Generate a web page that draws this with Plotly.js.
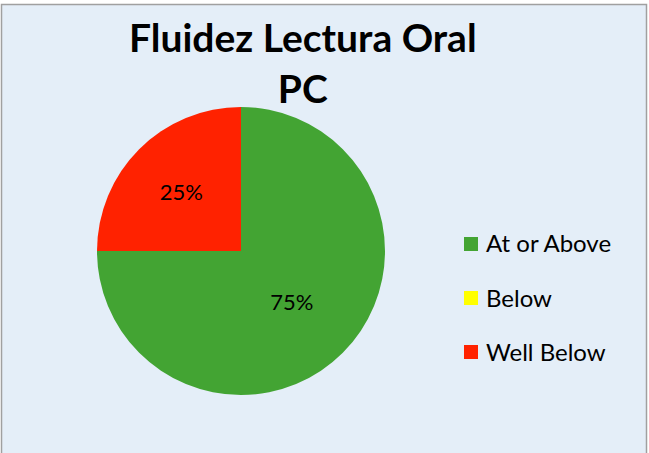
<!DOCTYPE html>
<html><head><meta charset="utf-8">
<script src="https://cdn.plot.ly/plotly-3.0.1.min.js"></script>
<style>html,body{margin:0;padding:0;background:#fff}</style>
</head><body><div id="chart" style="width:649px;height:453px"></div>
<script>
const categories = ["At or Above", "Below", "Well Below"];
const values = [75, 0, 25];
const colors = ["#43a433", "#ffff00", "#ff2200"];
const titleText = "Fluidez Lectura Oral<br>PC";

const W = 649, H = 453;
const px = x => x / W, py = y => 1 - y / H;

const shapes = [{
  type: "rect", xref: "paper", yref: "paper", layer: "below",
  x0: px(1.5), x1: px(646.5), y0: py(470), y1: py(4.5),
  fillcolor: "#e4eef8", line: {color: "#a0a0a0", width: 1.5}
}];
const annotations = [{
  xref: "paper", yref: "paper", x: px(303), y: py(62), xanchor: "center", yanchor: "middle",
  showarrow: false, text: "<b>" + titleText + "</b>",
  font: {family: "Lato, sans-serif", size: 39, color: "#000"}
}];
const legTop = 243, legGap = 54;
categories.forEach((c, i) => {
  const yc = legTop + i * legGap;
  shapes.push({type: "rect", xref: "paper", yref: "paper",
    x0: px(464), x1: px(478), y0: py(yc + 8), y1: py(yc - 6),
    fillcolor: colors[i], line: {width: 0}});
  annotations.push({xref: "paper", yref: "paper", x: px(484), y: py(yc),
    xanchor: "left", yanchor: "middle", showarrow: false, text: c,
    font: {family: "Lato, sans-serif", size: 24, color: "#000"}});
});

const data = [{
  type: "pie", labels: categories, values: values, sort: false,
  direction: "clockwise", rotation: 0,
  marker: {colors: colors, line: {width: 0}},
  textinfo: "percent", textposition: "inside", insidetextorientation: "horizontal",
  textfont: {family: "Lato, sans-serif", size: 22, color: "#000"},
  domain: {x: [px(97), px(385)], y: [py(395), py(107)]},
  hoverinfo: "none", showlegend: false
}];

const layout = {
  width: W, height: H, margin: {l: 0, r: 0, t: 0, b: 0},
  paper_bgcolor: "#ffffff", showlegend: false,
  shapes: shapes, annotations: annotations
};
Plotly.newPlot("chart", data, layout, {displayModeBar: false, staticPlot: true});
</script></body></html>
